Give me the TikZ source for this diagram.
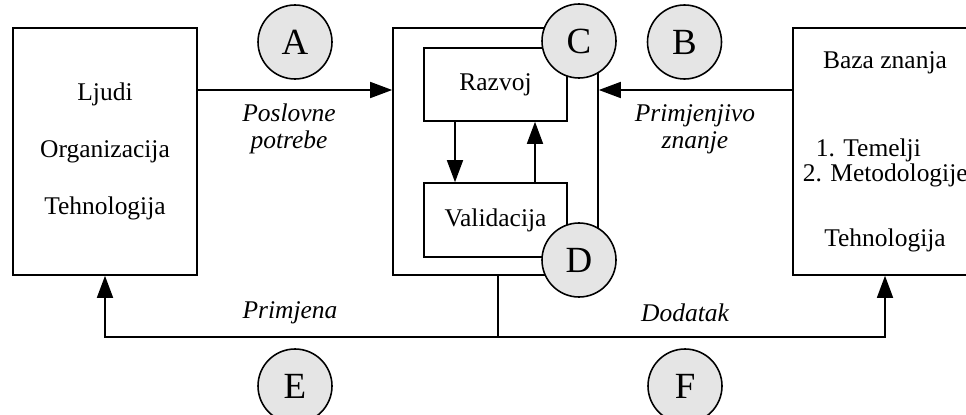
\documentclass[tikz,border=0pt]{standalone}
\usepackage{fontspec}
\setmainfont{Liberation Serif}
\usetikzlibrary{arrows.meta}

\begin{document}
\begin{tikzpicture}[line width=0.9pt,
    arr/.style={-{Triangle[length=0.44cm,width=0.32cm]}},
    kutija/.style={draw, rectangle, inner sep=0pt},
    krug/.style={draw, circle, fill=black!10, minimum size=1.48cm, inner sep=0pt, font=\fontsize{21}{24}\selectfont},
    tekst/.style={font=\fontsize{14.5}{17}\selectfont},
    oznaka/.style={font=\fontsize{14.5}{15.4}\selectfont\itshape, align=center}]
    \useasboundingbox (0,0) rectangle (19.32,8.28);
    \clip (0,0) rectangle (19.32,8.28);
    % kutije
    \node[kutija, minimum width=3.68cm, minimum height=4.94cm, align=center,
          font=\fontsize{14.5}{32.4}\selectfont] (ljudi) at (2.10,5.25) {Ljudi\\Organizacija\\Tehnologija};
    \node[kutija, minimum width=4.10cm, minimum height=4.94cm] (okvir) at (9.91,5.25) {};
    \node[kutija, minimum width=2.86cm, minimum height=1.46cm, tekst] (razvoj) at (9.91,6.59) {Razvoj};
    \node[kutija, minimum width=2.86cm, minimum height=1.48cm, tekst] (validacija) at (9.91,3.88) {Validacija};
    \node[kutija, minimum width=3.68cm, minimum height=4.94cm] (baza) at (17.70,5.25) {};
    \node[tekst] (bznanja) at (17.70,7.02) {Baza znanja};
    \node[tekst, anchor=west, inner sep=0pt] (temelji) at (16.30,5.27) {1. Temelji};
    \node[tekst, anchor=west, inner sep=0pt] (metod) at (16.04,4.77) {2. Metodologije};
    \node[tekst] (tehn) at (17.70,3.48) {Tehnologija};
    % veze
    \draw[arr] ([yshift=1.23cm]ljudi.east) -- ([yshift=1.23cm]okvir.west);
    \draw[arr] ([yshift=1.23cm]baza.west) -- ([yshift=1.23cm]okvir.east);
    \draw[arr] ([xshift=-0.81cm]razvoj.south) -- ([xshift=-0.81cm]validacija.north);
    \draw[arr] ([xshift=0.79cm]validacija.north) -- ([xshift=0.79cm]razvoj.south);
    \coordinate (spoj) at (9.96,1.54);
    \draw (okvir.south -| spoj) -- (spoj);
    \draw[arr] (spoj) -| (ljudi.south);
    \draw[arr] (spoj) -| (baza.south);
    \node[oznaka] (potrebe) at (5.78,5.70) {Poslovne\\potrebe};
    \node[oznaka] (znanje) at (13.90,5.70) {Primjenjivo\\znanje};
    \node[oznaka] (primjena) at (5.80,2.02) {Primjena};
    \node[oznaka] (dodatak) at (13.70,2.02) {Dodatak};
    \foreach \ime/\x/\y in {A/5.90/7.44, B/13.69/7.44, C/11.58/7.46, D/11.58/3.08, E/5.90/0.56, F/13.70/0.56}
        \node[krug] (\ime) at (\x,\y) {\ime};
\end{tikzpicture}
\end{document}
